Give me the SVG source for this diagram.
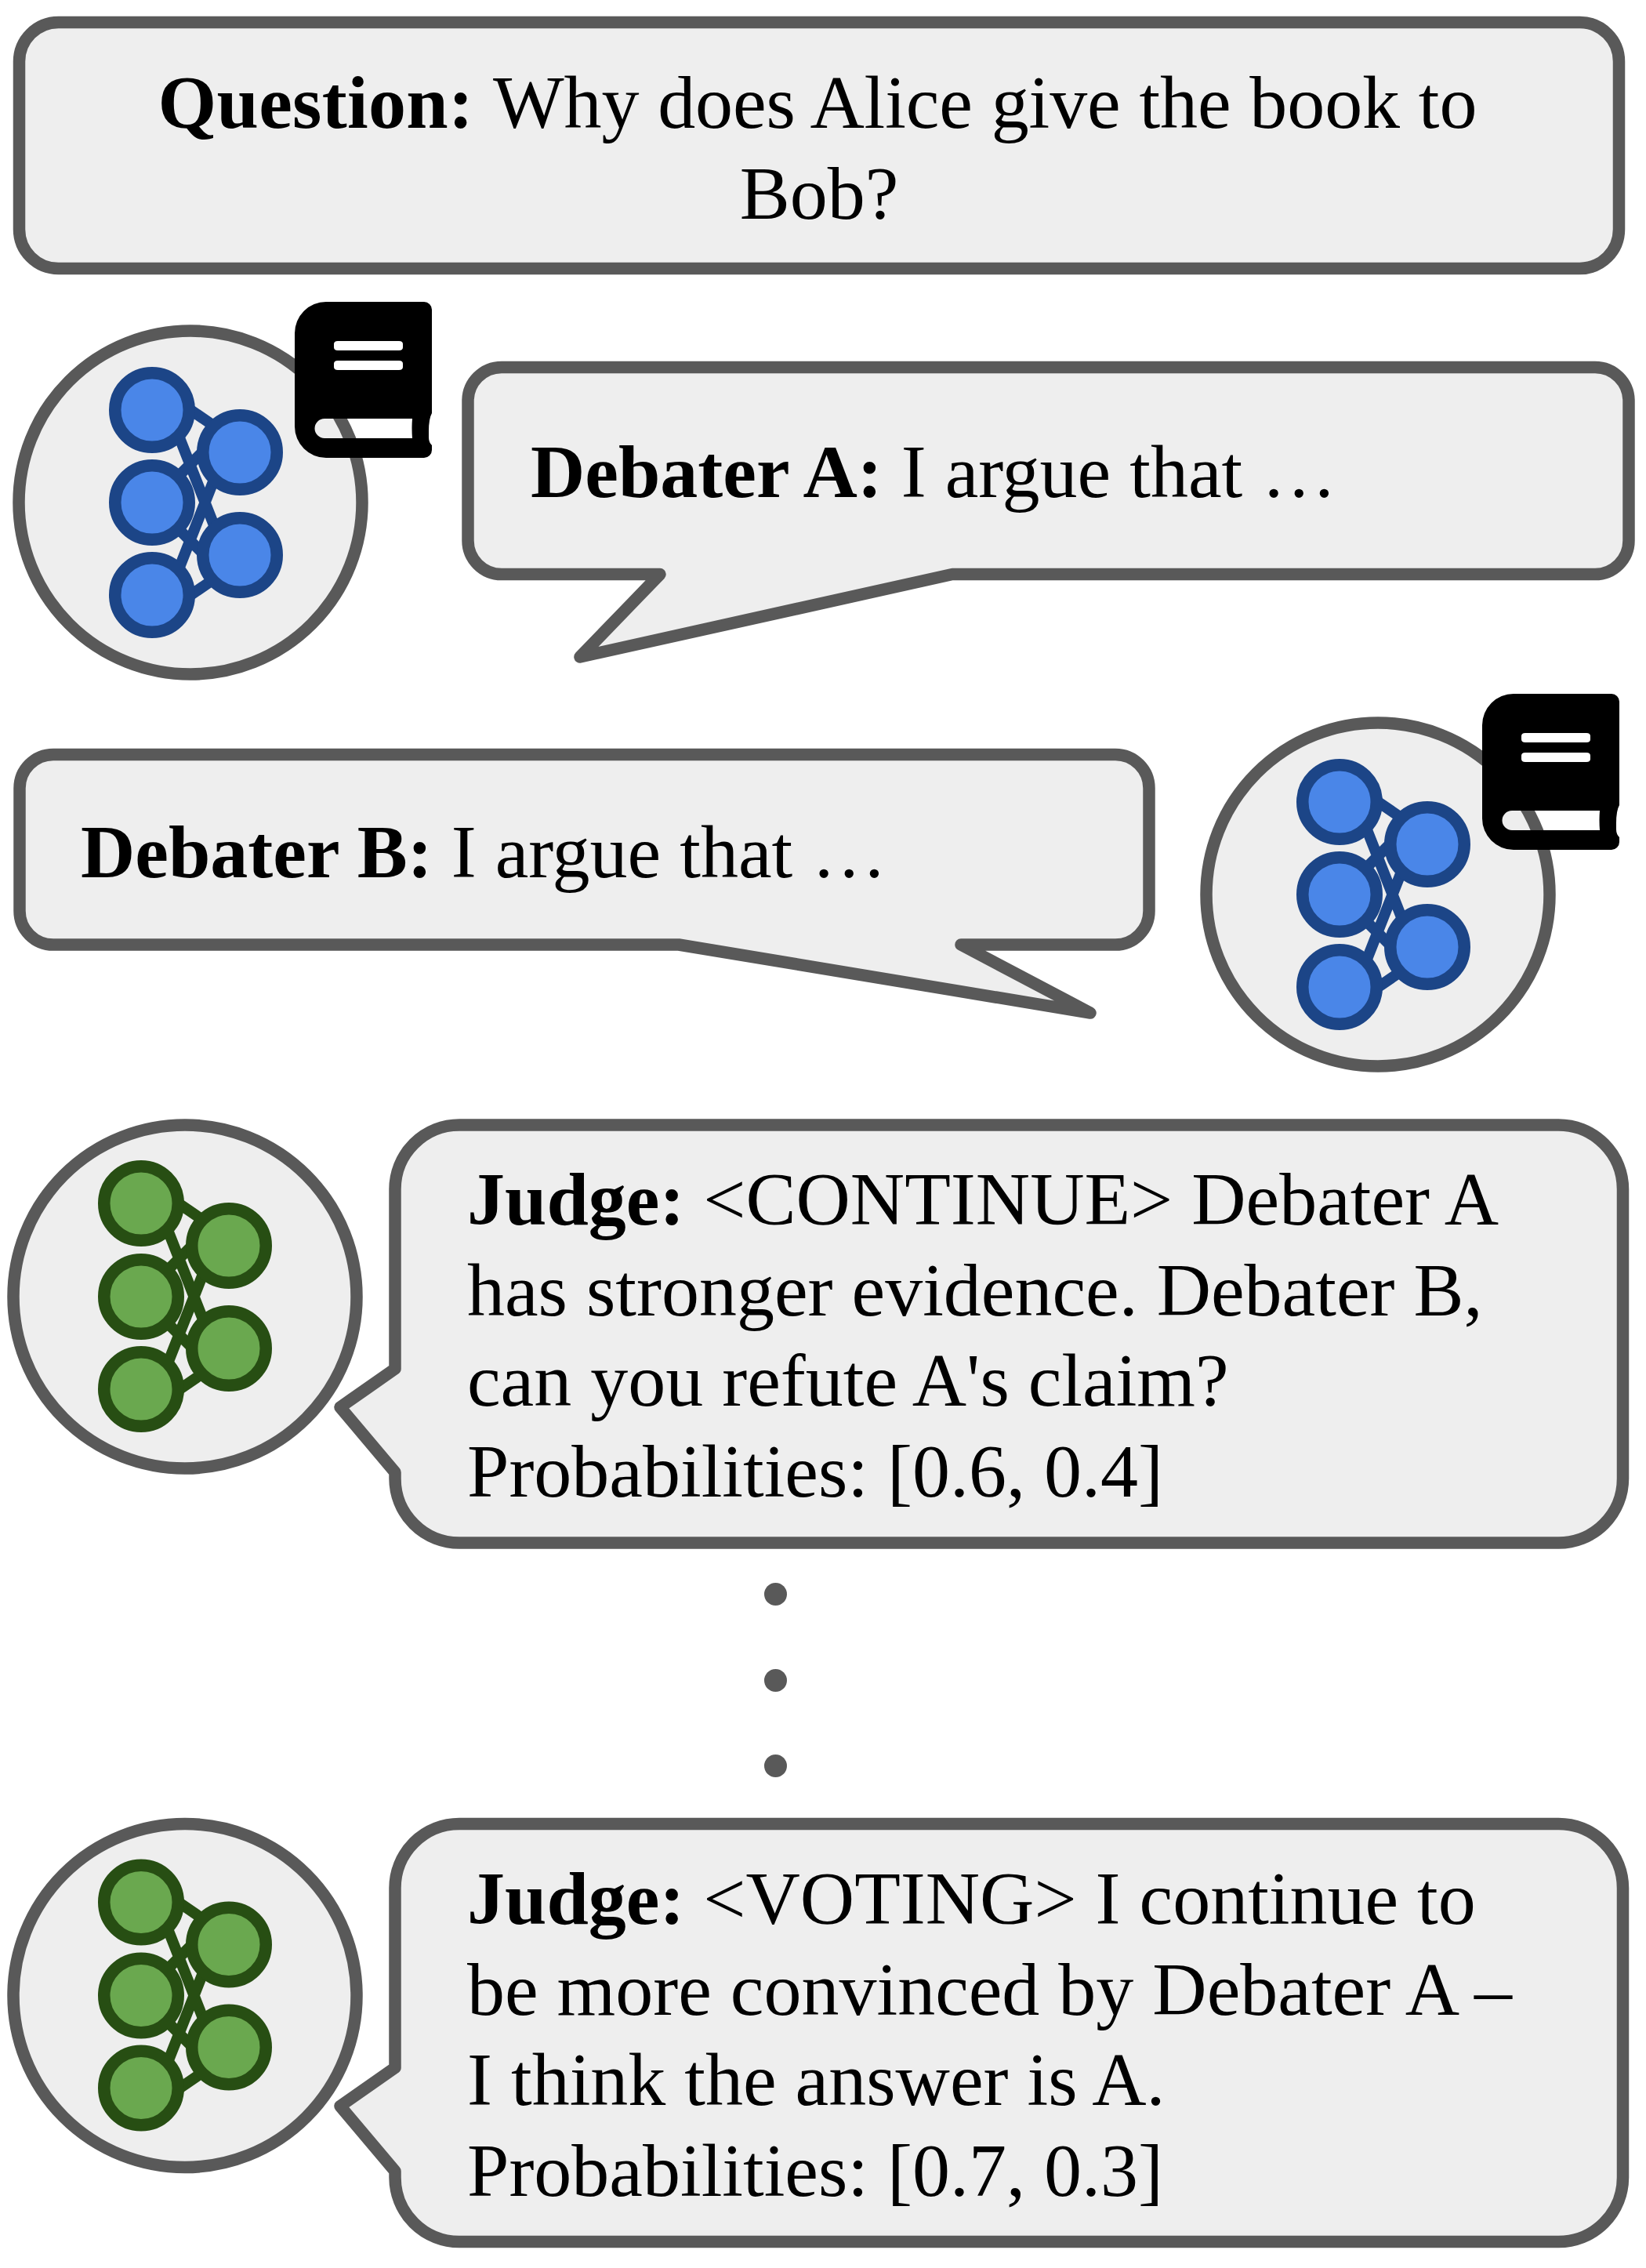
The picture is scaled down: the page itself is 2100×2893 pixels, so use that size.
<svg xmlns="http://www.w3.org/2000/svg" width="2100" height="2893" viewBox="0 0 2100 2893">
<style>
.box{fill:#eeeeee;stroke:#595959;stroke-width:15.5;stroke-linejoin:round}
.t{font-family:"Liberation Serif","Times New Roman",serif;font-size:96px;fill:#000}
.b{font-weight:bold}
.bn{fill:#4a86e8;stroke:#1c4587;stroke-width:15.5}
.be{stroke:#1c4587;stroke-width:14;fill:none}
.gn{fill:#6aa84f;stroke:#274e13;stroke-width:15.5}
.ge{stroke:#274e13;stroke-width:14;fill:none}
.dot{fill:#595959}
</style>
<defs>
<g id="net-blue">
<path class="be" d="M26-134L96-86M21-118L94 67M21 118L94-67M26 134L96 86M0 0L76-76M0 0L76 76"/>
<circle class="bn" cx="0" cy="-118" r="47.250"/><circle class="bn" cx="0" cy="0" r="47.250"/><circle class="bn" cx="0" cy="118" r="47.250"/>
<circle class="bn" cx="112" cy="-64" r="47.250"/><circle class="bn" cx="112" cy="67" r="47.250"/>
</g>
<g id="net-green">
<path class="ge" d="M26-134L96-86M21-118L94 67M21 118L94-67M26 134L96 86M0 0L76-76M0 0L76 76"/>
<circle class="gn" cx="0" cy="-119" r="47.250"/><circle class="gn" cx="0" cy="0" r="47.250"/><circle class="gn" cx="0" cy="118" r="47.250"/>
<circle class="gn" cx="112" cy="-65" r="47.250"/><circle class="gn" cx="112" cy="66" r="47.250"/>
</g>
<path id="book" fill-rule="evenodd" d="M416 385H541A10 10 0 0 1 551 395V527Q547 534 547 550V558Q547 564 551 568V574A10 10 0 0 1 541 584H416A40 40 0 0 1 376 544V425A40 40 0 0 1 416 385ZM431 435Q426 435 426 439V443Q426 447 431 447H509Q514 447 514 443V439Q514 435 509 435ZM431 460Q426 460 426 464V468Q426 472 431 472H509Q514 472 514 468V464Q514 460 509 460ZM414 534A12.500 12.500 0 0 0 414 559H526Q525 546 526 534Z"/>
</defs>
<g id="question"><rect class="box" x="24.500" y="28.500" width="2041" height="314" rx="50" ry="50"/>
<text class="t" x="201.500" y="163"><tspan class="b" letter-spacing=".3">Question:</tspan><tspan x="629" letter-spacing="-.1">Why does Alice give the book to</tspan></text>
<text class="t" x="1045" y="279" text-anchor="middle">Bob?</text></g>
<g id="debater-a-agent"><circle class="box" cx="243" cy="641" r="219"/><use href="#net-blue" x="194" y="641"/><use href="#book"/></g>
<g id="debater-a-speech"><path class="box" d="M640 468.500H2035A43 43 0 0 1 2078 511.500V689.500A43 43 0 0 1 2035 732.500H1215L740 838L842 732.500H640A43 43 0 0 1 597 689.500V511.500A43 43 0 0 1 640 468.500Z"/>
<text class="t" x="677" y="634"><tspan class="b">Debater A:</tspan> I argue that …</text></g>
<g id="debater-b-speech"><path class="box" d="M68 962.500H1423A43 43 0 0 1 1466 1005.500V1162A43 43 0 0 1 1423 1205H1226L1391 1292L866 1205H68A43 43 0 0 1 25 1162V1005.500A43 43 0 0 1 68 962.500Z"/>
<text class="t" x="103" y="1119"><tspan class="b">Debater B:</tspan> I argue that …</text></g>
<g id="debater-b-agent"><circle class="box" cx="1758" cy="1141" r="219"/><use href="#net-blue" x="1709" y="1141"/><use href="#book" x="1515" y="500"/></g>
<g id="judge-1-agent"><circle class="box" cx="236" cy="1654" r="219"/><use href="#net-green" x="180" y="1654"/></g>
<g id="judge-1-speech"><path class="box" d="M586 1435H1988.500A82 82 0 0 1 2070.500 1517V1886A82 82 0 0 1 1988.500 1968H586A82 82 0 0 1 504 1886V1878L434 1795L504 1746V1517A82 82 0 0 1 586 1435Z"/>
<text class="t" x="596" y="1562"><tspan class="b">Judge:</tspan> &lt;CONTINUE&gt; Debater A</text>
<text class="t" x="596" y="1678">has stronger evidence. Debater B,</text>
<text class="t" x="596" y="1793">can you refute A's claim?</text>
<text class="t" x="596" y="1909">Probabilities: [0.6, 0.4]</text></g>
<g id="ellipsis"><circle class="dot" cx="989.500" cy="2033.500" r="14.500"/><circle class="dot" cx="989.500" cy="2143.500" r="14.500"/><circle class="dot" cx="989.500" cy="2252.500" r="14.500"/></g>
<g id="judge-2-agent"><circle class="box" cx="236" cy="2545.500" r="219"/><use href="#net-green" x="180" y="2545.500"/></g>
<g id="judge-2-speech"><path class="box" d="M586 2326.500H1988.500A82 82 0 0 1 2070.500 2408.500V2777.500A82 82 0 0 1 1988.500 2859.500H586A82 82 0 0 1 504 2777.500V2769.500L434 2686.500L504 2637.500V2408.500A82 82 0 0 1 586 2326.500Z"/>
<text class="t" x="596" y="2454"><tspan class="b">Judge:</tspan> &lt;VOTING&gt; I continue to</text>
<text class="t" x="596" y="2570">be more convinced by Debater A –</text>
<text class="t" x="596" y="2685">I think the answer is A.</text>
<text class="t" x="596" y="2801">Probabilities: [0.7, 0.3]</text></g>
</svg>
